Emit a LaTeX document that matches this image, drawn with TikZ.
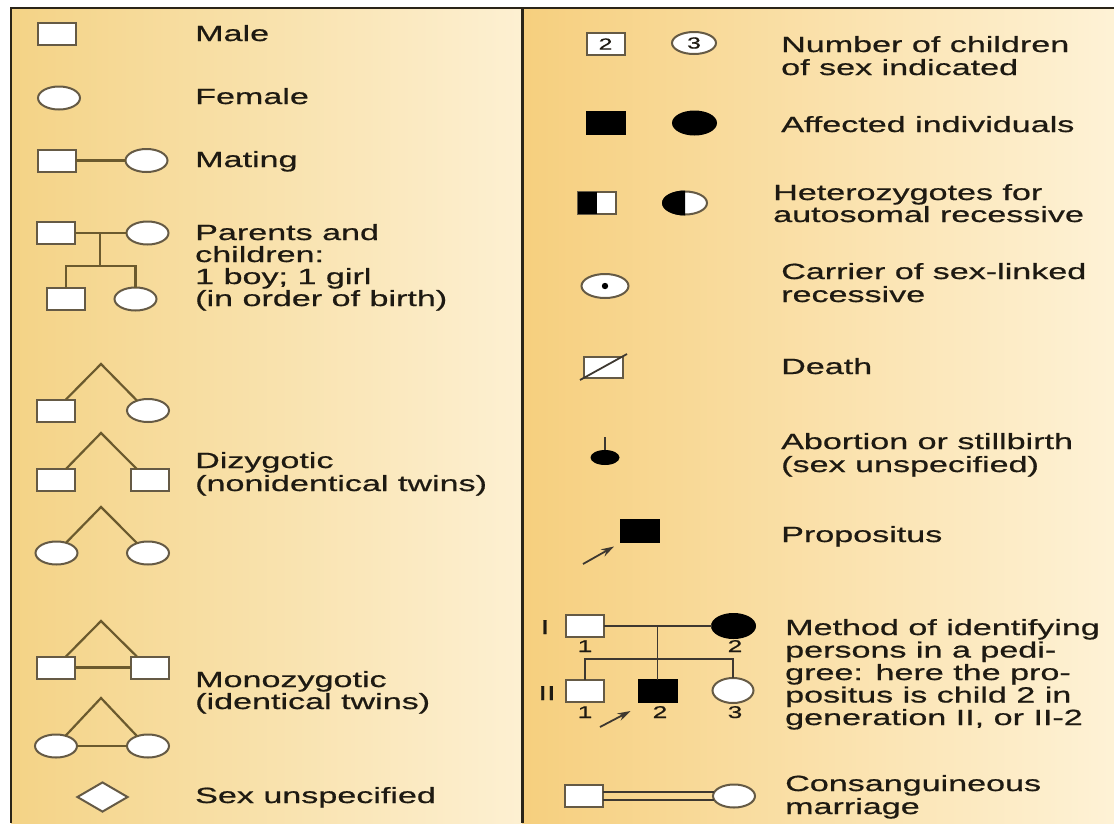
\documentclass[tikz,border=0pt]{standalone}
\usepackage{fontspec}
\setmainfont{Liberation Sans}[FakeStretch=1.55,FakeBold=0.7]
\usetikzlibrary{shapes.geometric,arrows.meta,calc}
\definecolor{bgLa}{HTML}{F4D386}
\definecolor{bgLb}{HTML}{FDF0D2}
\definecolor{bgRa}{HTML}{F6CF7E}
\definecolor{bgRb}{HTML}{FEF2D6}
\definecolor{framec}{HTML}{2A2418}
\definecolor{shp}{HTML}{655A45}
\definecolor{lnL}{HTML}{6B5A2E}
\definecolor{lnR}{HTML}{3E3830}
\definecolor{txt}{HTML}{1E1A12}
\begin{document}
\begin{tikzpicture}[x=1pt,y=-1pt,
  sq/.style={rectangle,draw=shp,fill=white,line width=2pt,minimum width=38pt,minimum height=22pt,inner sep=0pt,outer sep=0pt},
  fe/.style={ellipse,draw=shp,fill=white,line width=2pt,minimum width=42pt,minimum height=23pt,inner sep=0pt,outer sep=0pt},
  lbl/.style={anchor=base west,inner sep=0pt,text=txt,font=\fontsize{22pt}{22pt}\selectfont},
  numlbl/.style={anchor=base,inner sep=0pt,text=txt,font=\fontsize{17pt}{17pt}\selectfont},
  genlbl/.style={anchor=base,inner sep=0pt,text=txt,font=\fontsize{20pt}{20pt}\selectfont},
  lnl/.style={draw=lnL,line width=2.2pt},
  lnr/.style={draw=lnR,line width=1.8pt},
  arr/.style={lnr,-{Stealth[length=13pt,width=8pt]}}
]
\useasboundingbox (0,0) rectangle (1114,823);
\fill[white] (0,0) rectangle (1114,823);
\shade[left color=bgLa,right color=bgLb] (11,8) rectangle (522,823);
\shade[left color=bgRa,right color=bgRb] (522,8) rectangle (1114,823);
\draw[framec,line width=2.5pt] (11,823) -- (11,8) -- (1114,8);
\draw[framec,line width=3pt] (522,8) -- (522,823);

% ---------- left column ----------
\node[sq] (male) at (57,34) {};
\node[lbl] (tmale) at (195,41) {Male};

\node[fe] (female) at (59,98) {};
\node[lbl] (tfemale) at (195,104) {Female};

\node[sq] (mm) at (56.5,160.5) {};
\node[fe] (mf) at (146.5,160.5) {};
\draw[lnl] (mm.east) -- (mf.west);
\node[lbl] (tmating) at (195,167) {Mating};

\node[sq] (pm) at (56,233) {};
\node[fe] (pf) at (147.5,233) {};
\node[sq] (c1) at (66,299) {};
\node[fe] (c2) at (135.5,299) {};
\draw[lnl] (pm.east) -- (pf.west);
\coordinate (pmid) at (100,233);
\coordinate (psib) at (100,266);
\draw[lnl] (pmid) -- (psib);
\draw[lnl] (c1.north) |- (psib) -| (c2.north);
\node[lbl] (tpar1) at (195,240) {Parents and};
\node[lbl] (tpar2) at (195,262) {children:};
\node[lbl] (tpar3) at (195,284) {1 boy; 1 girl};
\node[lbl] (tpar4) at (195,306) {(in order of birth)};

% dizygotic
\coordinate (ap1) at (101,364);
\node[sq] (d1a) at (56,410.5) {};
\node[fe] (d1b) at (148,410.5) {};
\draw[lnl] (d1a.48) -- (ap1) -- (d1b.138);

\coordinate (ap2) at (101,433);
\node[sq] (d2a) at (56,480) {};
\node[sq] (d2b) at (149.5,480) {};
\draw[lnl] (d2a.48) -- (ap2) -- (d2b.139);

\coordinate (ap3) at (101,507);
\node[fe] (d3a) at (56.5,553) {};
\node[fe] (d3b) at (148,553) {};
\draw[lnl] (d3a.47) -- (ap3) -- (d3b.138);
\node[lbl] (tdiz1) at (195,468) {Dizygotic};
\node[lbl] (tdiz2) at (195,491) {(nonidentical twins)};

% monozygotic
\coordinate (ap4) at (101,621);
\node[sq] (m1a) at (56,667.5) {};
\node[sq] (m1b) at (149.5,667.5) {};
\draw[lnl] (m1a.48) -- (ap4) -- (m1b.139);
\draw[lnl] (m1a.east) -- (m1b.west);

\coordinate (ap5) at (101,698);
\node[fe] (m2a) at (56,746) {};
\node[fe] (m2b) at (148,746) {};
\draw[lnl] (m2a.47) -- (ap5) -- (m2b.138);
\draw[lnl] (m2a.east) -- (m2b.west);
\node[lbl] (tmono1) at (195,687) {Monozygotic};
\node[lbl] (tmono2) at (195,709) {(identical twins)};

\node[diamond,draw=shp,fill=white,line width=2pt,minimum width=51pt,minimum height=30pt,inner sep=0pt] (dia) at (102.5,797) {};
\node[lbl] (tsex) at (195,803) {Sex unspecified};

% ---------- right column ----------
\node[sq,font=\fontsize{16pt}{16pt}\selectfont,text=txt] (n2) at (605.5,44) {2};
\node[fe,minimum width=44pt,minimum height=22pt,font=\fontsize{16pt}{16pt}\selectfont,text=txt] (n3) at (694,43) {3};
\node[lbl] (tnum1) at (781,52) {Number of children};
\node[lbl] (tnum2) at (781,75) {of sex indicated};

\node[sq,fill=black,draw=black] (afm) at (605.5,123) {};
\node[fe,fill=black,draw=black,minimum width=43pt] (aff) at (694.5,123) {};
\node[lbl] (taff) at (781,132) {Affected individuals};

\node[sq] (hm) at (596.5,203) {};
\fill[black] (hm.north west) rectangle (hm.south);
\node[fe,minimum width=44pt] (hf) at (685,203) {};
\begin{scope}
  \clip ($(hf.center)+(-26,-14)$) rectangle ($(hf.center)+(0,14)$);
  \fill[black] (hf.center) ellipse [x radius=23pt, y radius=12.5pt];
\end{scope}
\node[lbl] (thet1) at (773,200) {Heterozygotes for};
\node[lbl] (thet2) at (773,222) {autosomal recessive};

\node[fe,minimum width=47pt,minimum height=24pt] (car) at (605,286) {};
\fill[black] (car.center) circle [radius=3.2pt];
\node[lbl] (tcar1) at (781,279) {Carrier of sex-linked};
\node[lbl] (tcar2) at (781,302) {recessive};

\node[sq,minimum width=39pt,minimum height=21pt] (dth) at (603.5,367) {};
\draw[lnr] ($(dth.south west)+(-4,2.5)$) -- ($(dth.north east)+(4,-2.5)$);
\node[lbl] (tdth) at (781,374) {Death};

\node[ellipse,fill=black,minimum width=29pt,minimum height=15pt,inner sep=0pt] (ab) at (605,457.5) {};
\draw[lnr] (ab.north) -- ++(0,-13);
\node[lbl] (tab1) at (781,449) {Abortion or stillbirth};
\node[lbl] (tab2) at (781,472) {(sex unspecified)};

\node[sq,fill=black,draw=black] (prop) at (640,530.5) {};
\coordinate (pA) at (583,564);
\draw[arr] (pA) -- ($(prop.south west)+(-7,5)$);
\node[lbl] (tprop) at (781,542) {Propositus};

% pedigree
\node[sq] (g11) at (584.5,626) {};
\node[fe,fill=black,draw=black,minimum width=43pt,minimum height=24pt] (g12) at (733.5,626) {};
\node[sq] (g21) at (585,691) {};
\node[sq,fill=black,draw=black] (g22) at (657.5,691) {};
\node[fe,minimum width=41pt,minimum height=25pt] (g23) at (733,690.5) {};
\draw[lnr] (g11.east) -- (g12.west);
\coordinate (gmid) at (657.5,626);
\coordinate (gsib) at (657.5,659);
\draw[lnr] (gmid) -- (g22.north);
\draw[lnr] (g21.north) |- (gsib) -| (g23.north);
\node[genlbl] (gI) at (545,634) {I};
\node[genlbl] (gII) at (547,700) {II};
\node[numlbl] (k11) at (585,652) {1};
\node[numlbl] (k12) at (735,652) {2};
\node[numlbl] (k21) at (585,718) {1};
\node[numlbl] (k22) at (660,718) {2};
\node[numlbl] (k23) at (735,718) {3};
\coordinate (pB) at (600,727);
\draw[arr] (pB) -- ($(g22.south west)+(-8,9)$);
\node[lbl] (tmet1) at (785,635) {Method of identifying};
\node[lbl] (tmet2) at (785,657.5) {persons in a pedi-};
\node[lbl] (tmet3) at (785,680) {gree: here the pro-};
\node[lbl] (tmet4) at (785,702.5) {positus is child 2 in};
\node[lbl] (tmet5) at (785,725) {generation II, or II-2};

% consanguineous
\node[sq] (cm) at (584,796) {};
\node[fe] (cf) at (734,796) {};
\draw[lnr] ($(cm.east)+(0,-4)$) -- ($(cf.west)+(0.6,-4)$);
\draw[lnr] ($(cm.east)+(0,4)$) -- ($(cf.west)+(0.6,4)$);
\node[lbl] (tcon1) at (785,791) {Consanguineous};
\node[lbl] (tcon2) at (785,814) {marriage};
\end{tikzpicture}
\end{document}
